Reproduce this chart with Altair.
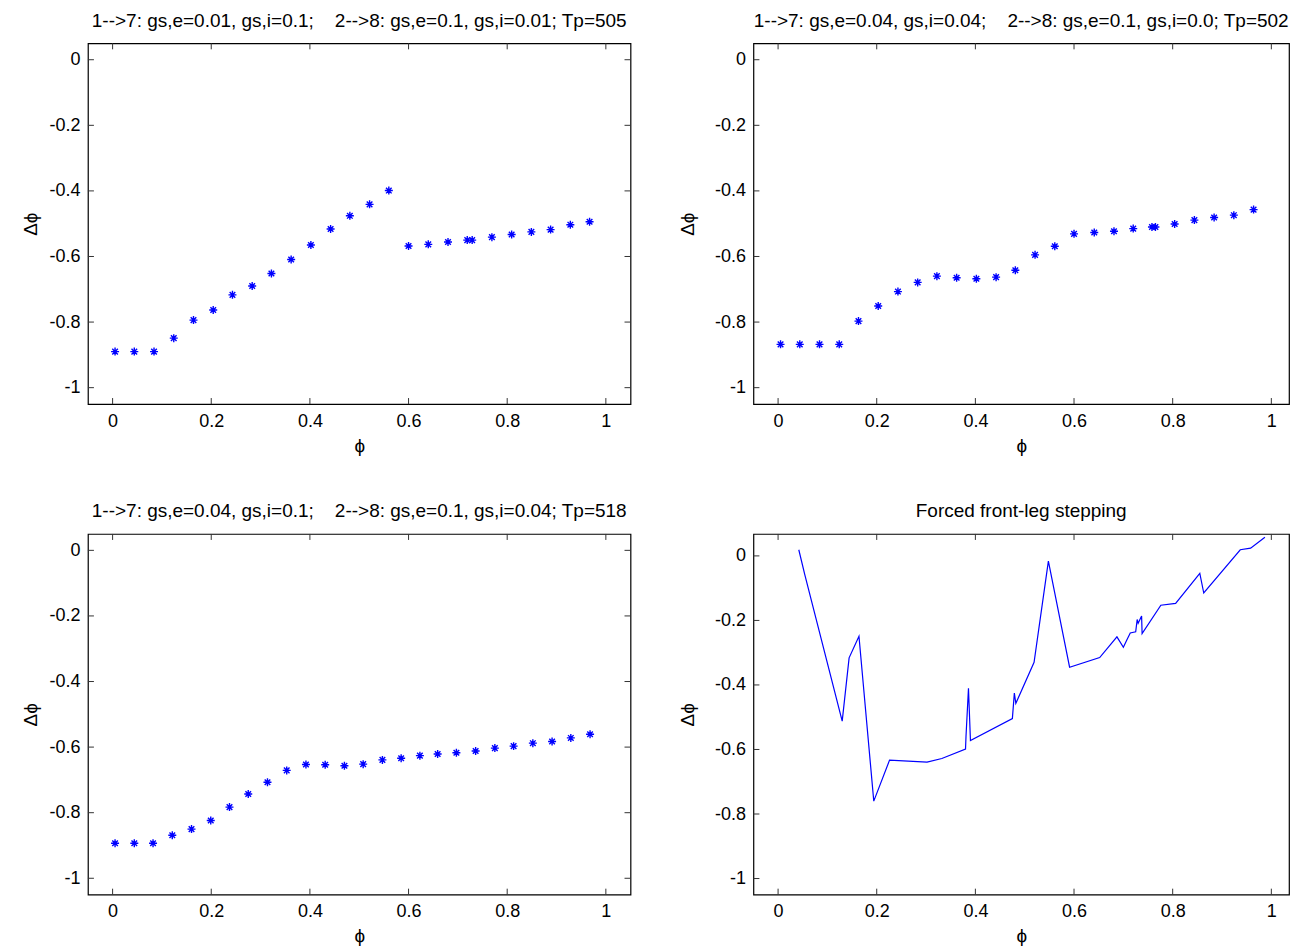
import altair as alt
import pandas as pd

FONT = "Liberation Sans"
BLUE = "#0000ff"

# ---------------- data ----------------
TL_phi = [0.005, 0.044, 0.084, 0.124, 0.164, 0.204, 0.243, 0.283, 0.322, 0.362, 0.402, 0.442, 0.481,
          0.521, 0.560, 0.600, 0.640, 0.680, 0.719, 0.729, 0.769, 0.809, 0.849, 0.888, 0.928, 0.967]
TL_dphi = [-0.890, -0.890, -0.890, -0.849, -0.794, -0.763, -0.717, -0.690, -0.652, -0.609, -0.565, -0.516, -0.476,
           -0.441, -0.399, -0.568, -0.563, -0.556, -0.550, -0.550, -0.541, -0.533, -0.525, -0.518, -0.503, -0.494]

TR_phi = [0.005, 0.044, 0.084, 0.124, 0.163, 0.203, 0.243, 0.283, 0.322, 0.362, 0.402, 0.442, 0.481,
          0.521, 0.561, 0.600, 0.641, 0.681, 0.720, 0.758, 0.765, 0.804, 0.844, 0.884, 0.924, 0.964]
TR_dphi = [-0.868, -0.868, -0.868, -0.868, -0.797, -0.751, -0.707, -0.679, -0.660, -0.665, -0.668, -0.663, -0.642,
           -0.595, -0.569, -0.531, -0.527, -0.523, -0.515, -0.510, -0.510, -0.501, -0.489, -0.481, -0.474, -0.457]

BL_phi = [0.005, 0.044, 0.082, 0.121, 0.160, 0.199, 0.237, 0.275, 0.314, 0.353, 0.392, 0.431, 0.470,
          0.508, 0.547, 0.585, 0.623, 0.659, 0.697, 0.736, 0.775, 0.813, 0.852, 0.891, 0.929, 0.968]
BL_dphi = [-0.893, -0.893, -0.893, -0.869, -0.850, -0.824, -0.783, -0.743, -0.707, -0.671, -0.653, -0.654, -0.657,
           -0.652, -0.639, -0.634, -0.626, -0.621, -0.617, -0.612, -0.603, -0.597, -0.588, -0.583, -0.572, -0.561]

BR_phi = [0.042, 0.054, 0.130, 0.144, 0.164, 0.194, 0.226, 0.302, 0.332, 0.380, 0.381, 0.386, 0.390,
          0.475, 0.479, 0.482, 0.519, 0.548, 0.591, 0.652, 0.687, 0.700, 0.707, 0.714, 0.725, 0.728,
          0.730, 0.737, 0.738, 0.776, 0.806, 0.855, 0.863, 0.937, 0.958, 0.987]
BR_dphi = [0.019, -0.057, -0.512, -0.316, -0.249, -0.760, -0.633, -0.639, -0.628, -0.599, -0.559, -0.410, -0.572,
           -0.504, -0.425, -0.457, -0.330, -0.016, -0.345, -0.315, -0.251, -0.283, -0.261, -0.239, -0.235, -0.197,
           -0.209, -0.186, -0.241, -0.153, -0.147, -0.054, -0.115, 0.019, 0.024, 0.058]

X_TICKS = [0, 0.2, 0.4, 0.6, 0.8, 1]
Y_TICKS = [0, -0.2, -0.4, -0.6, -0.8, -1]

TITLES = [
    "1-->7: gs,e=0.01, gs,i=0.1;\u00a0\u00a0\u00a0\u00a02-->8: gs,e=0.1, gs,i=0.01; Tp=505",
    "1-->7: gs,e=0.04, gs,i=0.04;\u00a0\u00a0\u00a0\u00a02-->8: gs,e=0.1, gs,i=0.0; Tp=502",
    "1-->7: gs,e=0.04, gs,i=0.1;\u00a0\u00a0\u00a0\u00a02-->8: gs,e=0.1, gs,i=0.04; Tp=518",
    "Forced front-leg stepping",
]

H = 361
PX_PER_UNIT = 543 / 1.1
TICK = 6
ASTERISK = "M-1,0L1,0M0,-1L0,1M-0.7,-0.7L0.7,0.7M-0.7,0.7L0.7,-0.7"
LABEL_EXPR = "toString(round(datum.value*10)/10)"


def panel(phi, dphi, title, ydom, kind, ytitle_pad, width, right_ticks):
    xmax = -0.05 + width / PX_PER_UNIT
    df = pd.DataFrame({"phi": phi, "dphi": dphi, "i": list(range(len(phi)))})
    xs = alt.Scale(domain=[-0.05, xmax], nice=False, zero=False)
    ys = alt.Scale(domain=ydom, nice=False, zero=False)
    xaxis = alt.Axis(values=X_TICKS, labelExpr=LABEL_EXPR, ticks=False, tickSize=0, domain=False, grid=False,
                     labelFont=FONT, labelFontSize=18, labelColor="black", labelPadding=8,
                     title="ϕ", titleFont=FONT, titleFontSize=19, titleFontWeight="normal",
                     titleColor="black", titlePadding=6, labelFlush=False)
    yaxis = alt.Axis(values=Y_TICKS, labelExpr=LABEL_EXPR, ticks=False, tickSize=0, domain=False, grid=False,
                     labelFont=FONT, labelFontSize=18, labelColor="black", labelPadding=8,
                     minExtent=38, maxExtent=38,
                     title="Δϕ", titleFont=FONT, titleFontSize=19, titleFontWeight="normal",
                     titleColor="black", titlePadding=ytitle_pad, labelFlush=False)
    base = alt.Chart(df)
    enc = dict(x=alt.X("phi:Q", scale=xs, axis=xaxis, title="ϕ"),
               y=alt.Y("dphi:Q", scale=ys, axis=yaxis, title="Δϕ"))
    if kind == "points":
        data_layer = base.mark_point(shape=ASTERISK, size=64, filled=False, color=BLUE,
                                     strokeWidth=1.4, opacity=1).encode(**enc)
    else:
        data_layer = base.mark_line(color=BLUE, strokeWidth=1.2).encode(order="i:Q", **enc)

    xt = alt.Chart(pd.DataFrame({"t": X_TICKS}))
    yt = alt.Chart(pd.DataFrame({"t": Y_TICKS}))
    rule = dict(color="#333333", strokeWidth=1)
    tx = alt.X("t:Q", scale=xs, axis=xaxis, title="ϕ")
    ty = alt.Y("t:Q", scale=ys, axis=yaxis, title="Δϕ")
    layers = [
        data_layer,
        xt.mark_rule(**rule).encode(x=tx, y=alt.value(0), y2=alt.value(TICK)),
        xt.mark_rule(**rule).encode(x=tx, y=alt.value(H), y2=alt.value(H - TICK)),
        yt.mark_rule(**rule).encode(y=ty, x=alt.value(0), x2=alt.value(TICK)),
    ]
    if right_ticks:
        layers.append(yt.mark_rule(**rule).encode(y=ty, x=alt.value(width), x2=alt.value(width - TICK)))

    return alt.layer(*layers).properties(
        width=width, height=H,
        title=alt.TitleParams(title, font=FONT, fontSize=19, fontWeight="normal", color="black",
                              offset=12, anchor="middle"),
    )


p1 = panel(TL_phi, TL_dphi, TITLES[0], [-1.05, 0.05], "points", 9, 543, True)
p2 = panel(TR_phi, TR_dphi, TITLES[1], [-1.05, 0.05], "points", 18, 536, False)
p3 = panel(BL_phi, BL_dphi, TITLES[2], [-1.05, 0.05], "points", 9, 543, True)
p4 = panel(BR_phi, BR_dphi, TITLES[3], [-1.05, 0.068], "line", 18, 536, False)

chart = alt.vconcat(
    alt.hconcat(p1, p2, spacing=45),
    alt.hconcat(p3, p4, spacing=45),
    spacing=45,
).properties(
    padding={"left": 21, "top": 10, "right": 0, "bottom": 0},
    background="white",
).configure_view(stroke="black", strokeWidth=1.2)

chart.save("out.html", embed_options={"renderer": "svg", "actions": False})
